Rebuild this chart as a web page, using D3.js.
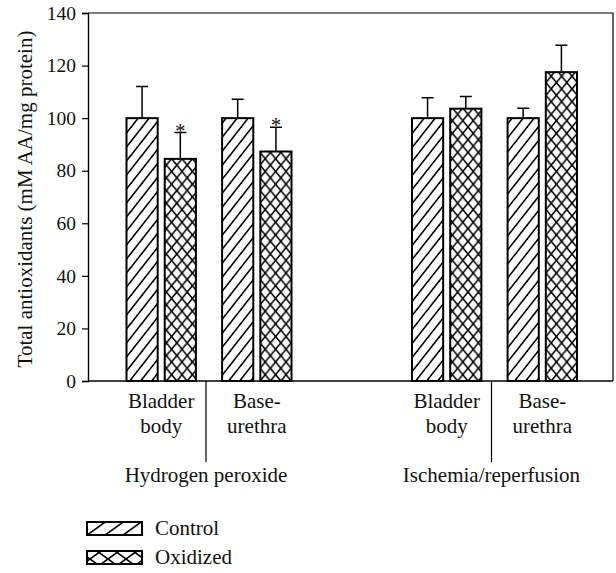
<!DOCTYPE html>
<html>
<head>
<meta charset="utf-8">
<script src="https://cdn.jsdelivr.net/npm/d3@7"></script>
<style>
  html, body { margin: 0; padding: 0; background: #fff; }
  svg { display: block; }
  text { font-family: "Liberation Serif", "Times New Roman", serif; fill: #111; }
</style>
</head>
<body>
<svg id="chart" width="616" height="573"></svg>
<script>
// ---- data ----
const groups = ["Hydrogen peroxide", "Ischemia/reperfusion"];
const tissues = ["Bladder body", "Base-urethra"];
const tissueLines = [["Bladder", "body"], ["Base-", "urethra"]];
const series = ["Control", "Oxidized"];
const controlValues = [100, 100, 100, 100];
const controlErrors = [12, 7.2, 7.8, 3.8];
const oxidizedValues = [84.5, 87.3, 103.6, 117.5];
const oxidizedErrors = [10, 9.2, 4.6, 10.2];
const oxidizedSignificant = [true, true, false, false];
const yTicks = [0, 20, 40, 60, 80, 100, 120, 140];
const yTitle = "Total antioxidants (mM AA/mg protein)";

// ---- layout ----
const svg = d3.select("#chart");
const plot = { left: 88, right: 613, top: 13, bottom: 381 };

const y = d3.scaleLinear().domain([0, 140]).range([plot.bottom, plot.top]);
const x0 = d3.scaleBand().domain(groups).range([126.5, 577]).paddingInner(0.422).paddingOuter(0);
const x1 = d3.scaleBand().domain(tissues).range([0, x0.bandwidth()]).paddingInner(0.274).paddingOuter(0);
const x2 = d3.scaleBand().domain(series).range([0, x1.bandwidth()]).paddingInner(0.184).paddingOuter(0);

// ---- patterns ----
const defs = svg.append("defs");
function diagPattern(id, w, h, sw) {
  const p = defs.append("pattern").attr("id", id).attr("patternUnits", "userSpaceOnUse")
    .attr("width", w).attr("height", h);
  p.append("rect").attr("width", w).attr("height", h).attr("fill", "#fff");
  p.append("path").attr("d", `M${-w},${2*h} L${2*w},${-h}`).attr("stroke", "#000").attr("stroke-width", sw);
  p.append("path").attr("d", `M${-w},${h} L${w},${-h}`).attr("stroke", "#000").attr("stroke-width", sw);
  p.append("path").attr("d", `M0,${2*h} L${2*w},0`).attr("stroke", "#000").attr("stroke-width", sw);
}
function crossPattern(id, w, h, sw) {
  const p = defs.append("pattern").attr("id", id).attr("patternUnits", "userSpaceOnUse")
    .attr("width", w).attr("height", h);
  p.append("rect").attr("width", w).attr("height", h).attr("fill", "#fff");
  p.append("path").attr("d", `M0,0 L${w},${h} M${-w},0 L0,${h} M${w},0 L${2*w},${h}`).attr("stroke", "#000").attr("stroke-width", sw);
  p.append("path").attr("d", `M0,${h} L${w},0 M${-w},${h} L0,0 M${w},${h} L${2*w},0`).attr("stroke", "#000").attr("stroke-width", sw);
}
diagPattern("hatch", 11, 14, 1.6);
crossPattern("cross", 10.4, 12.7, 1.6);
diagPattern("hatchL", 18, 13, 1.6);
crossPattern("crossL", 18, 13, 1.6);

// ---- bars data ----
const bars = [];
groups.forEach((g, gi) => {
  tissues.forEach((t, ti) => {
    const i = gi * 2 + ti;
    bars.push({ g, t, s: "Control", v: controlValues[i], e: controlErrors[i], sig: false, fill: "url(#hatch)" });
    bars.push({ g, t, s: "Oxidized", v: oxidizedValues[i], e: oxidizedErrors[i], sig: oxidizedSignificant[i], fill: "url(#cross)" });
  });
});
const bx = d => x0(d.g) + x1(d.t) + x2(d.s);

// ---- frame ----
svg.append("path")
  .attr("d", `M${plot.left},${plot.top} L${plot.right},${plot.top} L${plot.right},${plot.bottom}`)
  .attr("fill", "none").attr("stroke", "#000").attr("stroke-width", 1.2);

// ---- y axis ----
const yAxis = svg.append("g").attr("transform", `translate(${plot.left},0)`)
  .call(d3.axisLeft(y).tickValues(yTicks).tickSize(6).tickPadding(6));
yAxis.select(".domain").attr("stroke", "#000").attr("stroke-width", 1.4);
yAxis.selectAll(".tick line").attr("stroke", "#000").attr("stroke-width", 1.2);
yAxis.selectAll(".tick text").attr("font-size", 19.5).attr("font-family", "Liberation Serif, serif").attr("fill", "#111");

svg.append("text")
  .attr("transform", `translate(25,${(plot.top + plot.bottom) / 2 + 2}) rotate(-90)`)
  .attr("text-anchor", "middle").attr("dominant-baseline", "central")
  .attr("font-size", 21).text(yTitle);

// ---- bars ----
const barG = svg.append("g");
barG.selectAll("rect.bar").data(bars).join("rect")
  .attr("class", "bar")
  .attr("x", d => bx(d))
  .attr("y", d => y(d.v))
  .attr("width", x2.bandwidth())
  .attr("height", d => y(0) - y(d.v))
  .attr("fill", d => d.fill)
  .attr("stroke", "#000").attr("stroke-width", 2);

// error bars
const capHalf = 6;
barG.selectAll("path.err").data(bars).join("path")
  .attr("class", "err")
  .attr("d", d => {
    const cx = bx(d) + x2.bandwidth() / 2;
    return `M${cx},${y(d.v)} L${cx},${y(d.v + d.e)} M${cx - capHalf},${y(d.v + d.e)} L${cx + capHalf},${y(d.v + d.e)}`;
  })
  .attr("fill", "none").attr("stroke", "#000").attr("stroke-width", 1.5);

// significance stars
barG.selectAll("text.star").data(bars.filter(d => d.sig)).join("text")
  .attr("class", "star")
  .attr("x", d => bx(d) + x2.bandwidth() / 2)
  .attr("y", d => y(d.v + d.e) + 5)
  .attr("text-anchor", "middle").attr("font-size", 21).text("*");

// x baseline
svg.append("line")
  .attr("x1", plot.left).attr("x2", plot.right)
  .attr("y1", y(0)).attr("y2", y(0))
  .attr("stroke", "#000").attr("stroke-width", 1.4);

// ---- category labels ----
groups.forEach((g, gi) => {
  tissues.forEach((t, ti) => {
    const cx = x0(g) + x1(t) + x1.bandwidth() / 2;
    const lbl = svg.append("text").attr("text-anchor", "middle").attr("font-size", 21);
    tissueLines[ti].forEach((ln, li) => {
      lbl.append("tspan").attr("x", cx).attr("y", 408 + li * 25).text(ln);
    });
  });
  const sepX = (x0(g) + x1(tissues[0]) + x1.bandwidth() + x0(g) + x1(tissues[1])) / 2 - 3;
  svg.append("line").attr("x1", sepX).attr("x2", sepX).attr("y1", y(0)).attr("y2", 462)
    .attr("stroke", "#000").attr("stroke-width", 1.2);
  svg.append("text").attr("x", sepX).attr("y", 482).attr("text-anchor", "middle")
    .attr("font-size", 21).text(g);
});

// ---- legend ----
const legend = svg.append("g");
const legendFills = ["url(#hatchL)", "url(#crossL)"];
series.forEach((s, i) => {
  const ly = 522 + i * 29;
  legend.append("rect").attr("x", 87).attr("y", ly).attr("width", 55).attr("height", 13)
    .attr("fill", legendFills[i]).attr("stroke", "#000").attr("stroke-width", 2);
  legend.append("text").attr("x", 155).attr("y", ly + 13).attr("font-size", 21).text(s);
});
</script>
</body>
</html>
